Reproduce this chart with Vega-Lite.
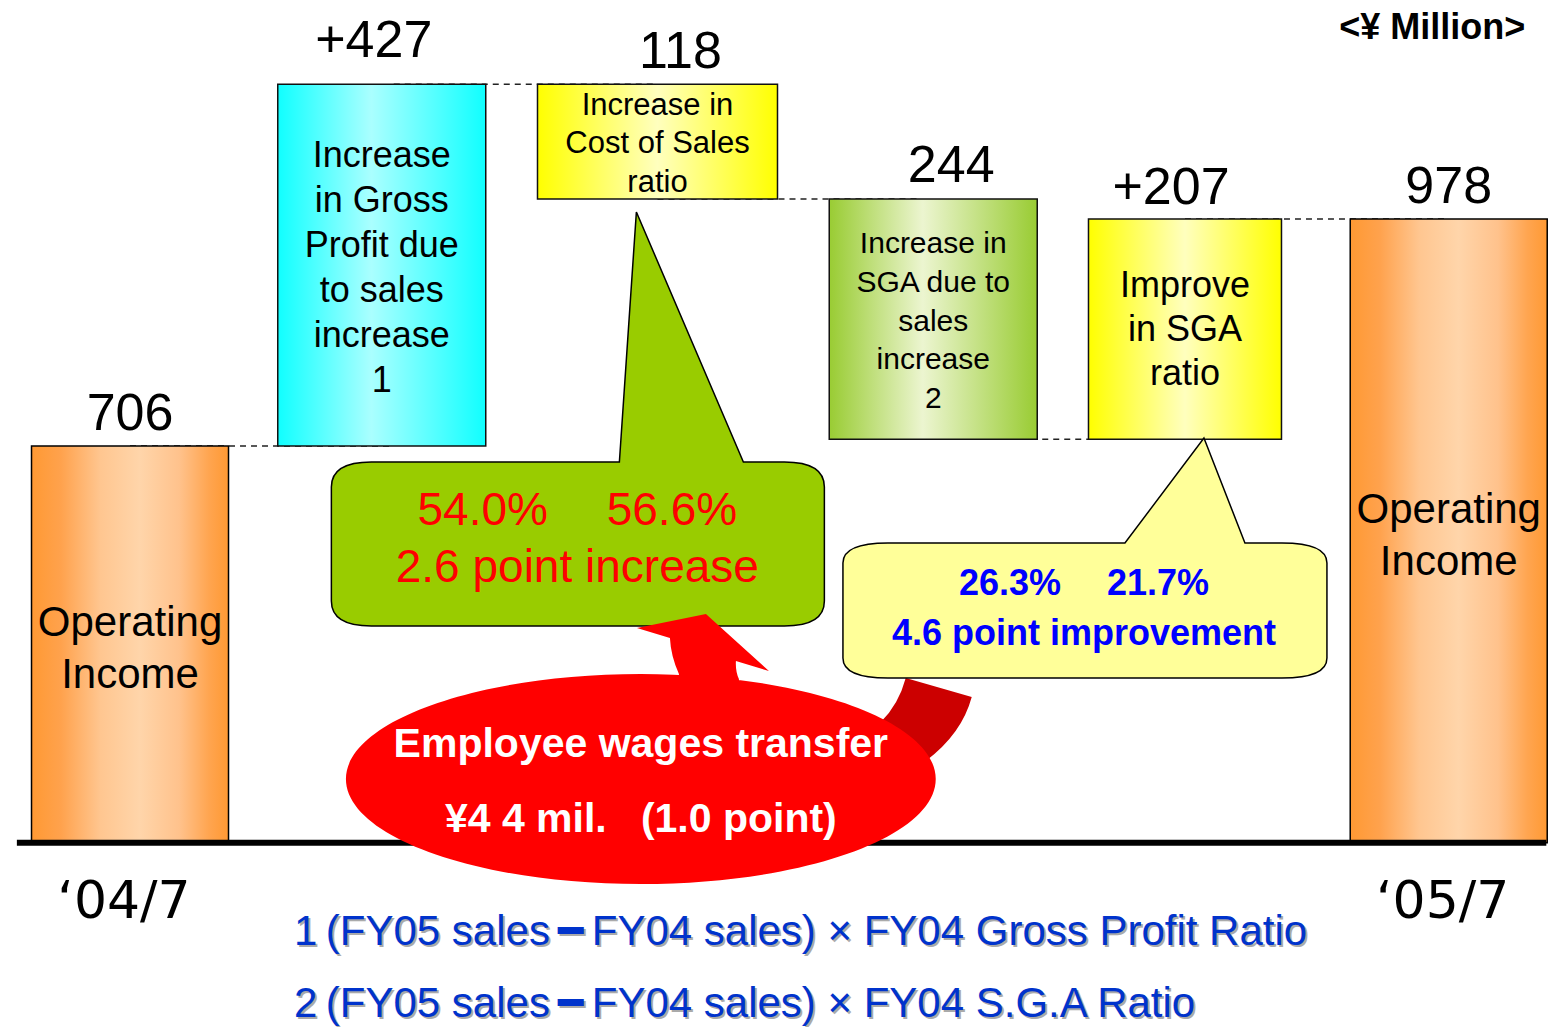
{
  "$schema": "https://vega.github.io/schema/vega-lite/v6.json",
  "width": 1555,
  "height": 1027,
  "padding": 0,
  "autosize": "none",
  "background": "white",
  "config": {"view": {"stroke": null}, "text": {"font": "Liberation Sans"}},
  "datasets": {
    "steps": [
      {"step": 0, "item": "Operating income FY04", "lo": 0, "hi": 706, "label": "706", "desc": "Operating\nIncome", "grp": "total", "cat": "‘04/7"},
      {"step": 1, "item": "Gross profit from sales increase", "lo": 706, "hi": 1350, "label": "+427", "desc": "Increase\nin Gross\nProfit due\nto sales\nincrease\n1", "grp": "gross", "cat": ""},
      {"step": 2, "item": "Cost of sales ratio", "lo": 1146, "hi": 1350, "label": "118", "desc": "Increase in\nCost of Sales\nratio", "grp": "cost", "cat": ""},
      {"step": 3, "item": "SGA from sales increase", "lo": 718, "hi": 1146, "label": "244", "desc": "Increase in\nSGA due to\nsales\nincrease\n2", "grp": "sga", "cat": ""},
      {"step": 4, "item": "SGA ratio", "lo": 718, "hi": 1110, "label": "+207", "desc": "Improve\nin SGA\nratio", "grp": "sgaratio", "cat": ""},
      {"step": 5, "item": "Operating income FY05", "lo": 0, "hi": 1110, "label": "978", "desc": "Operating\nIncome", "grp": "total", "cat": "‘05/7"}
    ],
    "links": [
      {"from": 0, "to": 1, "level": 706},
      {"from": 1, "to": 2, "level": 1350},
      {"from": 2, "to": 3, "level": 1146},
      {"from": 3, "to": 4, "level": 718},
      {"from": 4, "to": 5, "level": 1110}
    ]
  },
  "data": {"name": "steps"},
  "layer": [
    {
      "data": {"name": "links"},
      "mark": {"type": "rule", "strokeDash": [6, 5], "strokeWidth": 1.5, "color": "#222222"},
      "encoding": {
        "x": {"field": "from", "type": "quantitative", "scale": {"domain": [-0.474, 5.384], "nice": false, "zero": false}, "axis": null},
        "x2": {"field": "to"},
        "y": {"field": "level", "type": "quantitative", "scale": {"domain": [-328, 1500], "nice": false, "zero": false}, "axis": null}
      }
    },
    {
      "transform": [{"filter": "datum.grp == 'total'"}],
      "mark": {"type": "bar", "width": 197, "opacity": 1, "stroke": "#000000", "strokeWidth": 1.5,
        "fill": {"gradient": "linear", "x1": 0, "y1": 0, "x2": 1, "y2": 0, "stops": [
          {"offset": 0, "color": "#FF9933"}, {"offset": 0.15, "color": "#FFA24D"}, {"offset": 0.35, "color": "#FFC690"},
          {"offset": 0.55, "color": "#FFD5AA"}, {"offset": 0.75, "color": "#FFC28C"}, {"offset": 0.9, "color": "#FFA550"}, {"offset": 1, "color": "#FF9933"}]}},
      "encoding": {
        "x": {"field": "step", "type": "quantitative", "scale": {"domain": [-0.474, 5.384], "nice": false, "zero": false}, "axis": null},
        "y": {"field": "hi", "type": "quantitative", "scale": {"domain": [-328, 1500], "nice": false, "zero": false}, "axis": null},
        "y2": {"field": "lo"}
      }
    },
    {
      "transform": [{"filter": "datum.grp == 'gross'"}],
      "mark": {"type": "bar", "width": 208, "xOffset": -12, "opacity": 1, "stroke": "#111111", "strokeWidth": 1.5,
        "fill": {"gradient": "linear", "x1": 0, "y1": 0, "x2": 1, "y2": 0, "stops": [
          {"offset": 0, "color": "#10FFFF"}, {"offset": 0.45, "color": "#AAFFFF"}, {"offset": 1, "color": "#10FFFF"}]}},
      "encoding": {
        "x": {"field": "step", "type": "quantitative", "scale": {"domain": [-0.474, 5.384], "nice": false, "zero": false}, "axis": null},
        "y": {"field": "hi", "type": "quantitative", "scale": {"domain": [-328, 1500], "nice": false, "zero": false}, "axis": null},
        "y2": {"field": "lo"}
      }
    },
    {
      "transform": [{"filter": "datum.grp == 'cost'"}],
      "mark": {"type": "bar", "width": 240, "opacity": 1, "stroke": "#111111", "strokeWidth": 1.5,
        "fill": {"gradient": "linear", "x1": 0, "y1": 0, "x2": 1, "y2": 0, "stops": [
          {"offset": 0, "color": "#FFFF00"}, {"offset": 0.5, "color": "#FFFFBE"}, {"offset": 1, "color": "#FFFF00"}]}},
      "encoding": {
        "x": {"field": "step", "type": "quantitative", "scale": {"domain": [-0.474, 5.384], "nice": false, "zero": false}, "axis": null},
        "y": {"field": "hi", "type": "quantitative", "scale": {"domain": [-328, 1500], "nice": false, "zero": false}, "axis": null},
        "y2": {"field": "lo"}
      }
    },
    {
      "transform": [{"filter": "datum.grp == 'sga'"}],
      "mark": {"type": "bar", "width": 208, "xOffset": 12, "opacity": 1, "stroke": "#111111", "strokeWidth": 1.5,
        "fill": {"gradient": "linear", "x1": 0, "y1": 0, "x2": 1, "y2": 0, "stops": [
          {"offset": 0, "color": "#99CC33"}, {"offset": 0.45, "color": "#ECF5D0"}, {"offset": 1, "color": "#99CC33"}]}},
      "encoding": {
        "x": {"field": "step", "type": "quantitative", "scale": {"domain": [-0.474, 5.384], "nice": false, "zero": false}, "axis": null},
        "y": {"field": "hi", "type": "quantitative", "scale": {"domain": [-328, 1500], "nice": false, "zero": false}, "axis": null},
        "y2": {"field": "lo"}
      }
    },
    {
      "transform": [{"filter": "datum.grp == 'sgaratio'"}],
      "mark": {"type": "bar", "width": 193, "opacity": 1, "stroke": "#111111", "strokeWidth": 1.5,
        "fill": {"gradient": "linear", "x1": 0, "y1": 0, "x2": 1, "y2": 0, "stops": [
          {"offset": 0, "color": "#FFFF00"}, {"offset": 0.5, "color": "#FFFFBE"}, {"offset": 1, "color": "#FFFF00"}]}},
      "encoding": {
        "x": {"field": "step", "type": "quantitative", "scale": {"domain": [-0.474, 5.384], "nice": false, "zero": false}, "axis": null},
        "y": {"field": "hi", "type": "quantitative", "scale": {"domain": [-328, 1500], "nice": false, "zero": false}, "axis": null},
        "y2": {"field": "lo"}
      }
    },
    {
      "transform": [{"filter": "datum.grp == 'total'"}, {"fold": ["lo", "hi"], "as": ["edge", "level"]}],
      "mark": {"type": "text", "fontSize": 42, "lineHeight": 52, "lineBreak": "\n", "align": "center", "baseline": "alphabetic", "dy": -8, "color": "#000000"},
      "encoding": {
        "x": {"field": "step", "type": "quantitative", "scale": {"domain": [-0.474, 5.384], "nice": false, "zero": false}, "axis": null},
        "y": {"field": "level", "aggregate": "mean", "type": "quantitative", "scale": {"domain": [-328, 1500], "nice": false, "zero": false}, "axis": null},
        "text": {"field": "desc", "type": "nominal"}
      }
    },
    {
      "transform": [{"filter": "datum.grp == 'gross'"}, {"fold": ["lo", "hi"], "as": ["edge", "level"]}],
      "mark": {"type": "text", "fontSize": 36, "lineHeight": 45, "lineBreak": "\n", "align": "center", "baseline": "alphabetic", "dx": -12, "dy": -98, "color": "#000000"},
      "encoding": {
        "x": {"field": "step", "type": "quantitative", "scale": {"domain": [-0.474, 5.384], "nice": false, "zero": false}, "axis": null},
        "y": {"field": "level", "aggregate": "mean", "type": "quantitative", "scale": {"domain": [-328, 1500], "nice": false, "zero": false}, "axis": null},
        "text": {"field": "desc", "type": "nominal"}
      }
    },
    {
      "transform": [{"filter": "datum.grp == 'cost'"}, {"fold": ["lo", "hi"], "as": ["edge", "level"]}],
      "mark": {"type": "text", "fontSize": 31, "lineHeight": 38.5, "lineBreak": "\n", "align": "center", "baseline": "alphabetic", "dy": -27, "color": "#000000"},
      "encoding": {
        "x": {"field": "step", "type": "quantitative", "scale": {"domain": [-0.474, 5.384], "nice": false, "zero": false}, "axis": null},
        "y": {"field": "level", "aggregate": "mean", "type": "quantitative", "scale": {"domain": [-328, 1500], "nice": false, "zero": false}, "axis": null},
        "text": {"field": "desc", "type": "nominal"}
      }
    },
    {
      "transform": [{"filter": "datum.grp == 'sga'"}, {"fold": ["lo", "hi"], "as": ["edge", "level"]}],
      "mark": {"type": "text", "fontSize": 30, "lineHeight": 38.75, "lineBreak": "\n", "align": "center", "baseline": "alphabetic", "dx": 12, "dy": -66, "color": "#000000"},
      "encoding": {
        "x": {"field": "step", "type": "quantitative", "scale": {"domain": [-0.474, 5.384], "nice": false, "zero": false}, "axis": null},
        "y": {"field": "level", "aggregate": "mean", "type": "quantitative", "scale": {"domain": [-328, 1500], "nice": false, "zero": false}, "axis": null},
        "text": {"field": "desc", "type": "nominal"}
      }
    },
    {
      "transform": [{"filter": "datum.grp == 'sgaratio'"}, {"fold": ["lo", "hi"], "as": ["edge", "level"]}],
      "mark": {"type": "text", "fontSize": 36, "lineHeight": 44, "lineBreak": "\n", "align": "center", "baseline": "alphabetic", "dy": -32, "color": "#000000"},
      "encoding": {
        "x": {"field": "step", "type": "quantitative", "scale": {"domain": [-0.474, 5.384], "nice": false, "zero": false}, "axis": null},
        "y": {"field": "level", "aggregate": "mean", "type": "quantitative", "scale": {"domain": [-328, 1500], "nice": false, "zero": false}, "axis": null},
        "text": {"field": "desc", "type": "nominal"}
      }
    },
    {
      "transform": [{"filter": "datum.grp == 'total'"}],
      "mark": {"type": "text", "fontSize": 52, "align": "center", "baseline": "alphabetic", "dy": -16, "color": "#000000"},
      "encoding": {
        "x": {"field": "step", "type": "quantitative", "scale": {"domain": [-0.474, 5.384], "nice": false, "zero": false}, "axis": null},
        "y": {"field": "hi", "type": "quantitative", "scale": {"domain": [-328, 1500], "nice": false, "zero": false}, "axis": null},
        "text": {"field": "label", "type": "nominal"}
      }
    },
    {
      "transform": [{"filter": "datum.grp == 'gross'"}],
      "mark": {"type": "text", "fontSize": 52, "align": "center", "baseline": "alphabetic", "dx": -20, "dy": -27, "color": "#000000"},
      "encoding": {
        "x": {"field": "step", "type": "quantitative", "scale": {"domain": [-0.474, 5.384], "nice": false, "zero": false}, "axis": null},
        "y": {"field": "hi", "type": "quantitative", "scale": {"domain": [-328, 1500], "nice": false, "zero": false}, "axis": null},
        "text": {"field": "label", "type": "nominal"}
      }
    },
    {
      "transform": [{"filter": "datum.grp == 'cost'"}],
      "mark": {"type": "text", "fontSize": 52, "align": "center", "baseline": "alphabetic", "dx": 23, "dy": -16, "color": "#000000"},
      "encoding": {
        "x": {"field": "step", "type": "quantitative", "scale": {"domain": [-0.474, 5.384], "nice": false, "zero": false}, "axis": null},
        "y": {"field": "hi", "type": "quantitative", "scale": {"domain": [-328, 1500], "nice": false, "zero": false}, "axis": null},
        "text": {"field": "label", "type": "nominal"}
      }
    },
    {
      "transform": [{"filter": "datum.grp == 'sga'"}],
      "mark": {"type": "text", "fontSize": 52, "align": "center", "baseline": "alphabetic", "dx": 30, "dy": -17, "color": "#000000"},
      "encoding": {
        "x": {"field": "step", "type": "quantitative", "scale": {"domain": [-0.474, 5.384], "nice": false, "zero": false}, "axis": null},
        "y": {"field": "hi", "type": "quantitative", "scale": {"domain": [-328, 1500], "nice": false, "zero": false}, "axis": null},
        "text": {"field": "label", "type": "nominal"}
      }
    },
    {
      "transform": [{"filter": "datum.grp == 'sgaratio'"}],
      "mark": {"type": "text", "fontSize": 52, "align": "center", "baseline": "alphabetic", "dx": -14, "dy": -15, "color": "#000000"},
      "encoding": {
        "x": {"field": "step", "type": "quantitative", "scale": {"domain": [-0.474, 5.384], "nice": false, "zero": false}, "axis": null},
        "y": {"field": "hi", "type": "quantitative", "scale": {"domain": [-328, 1500], "nice": false, "zero": false}, "axis": null},
        "text": {"field": "label", "type": "nominal"}
      }
    },
    {
      "transform": [{"filter": "datum.grp == 'total'"}],
      "mark": {"type": "text", "font": "DejaVu Sans", "fontSize": 52, "align": "center", "baseline": "alphabetic", "dx": -6, "dy": 75, "color": "#000000"},
      "encoding": {
        "x": {"field": "step", "type": "quantitative", "scale": {"domain": [-0.474, 5.384], "nice": false, "zero": false}, "axis": null},
        "y": {"field": "lo", "type": "quantitative", "scale": {"domain": [-328, 1500], "nice": false, "zero": false}, "axis": null},
        "text": {"field": "cat", "type": "nominal"}
      }
    },
    {
      "data": {"values": [{}]},
      "mark": {"type": "rule", "strokeWidth": 6, "color": "#000000"},
      "encoding": {
        "x": {"datum": -0.429, "type": "quantitative", "scale": {"domain": [-0.474, 5.384], "nice": false, "zero": false}, "axis": null},
        "x2": {"datum": 5.37},
        "y": {"datum": 0, "type": "quantitative", "scale": {"domain": [-328, 1500], "nice": false, "zero": false}, "axis": null}
      }
    },
    {
      "data": {"values": [{}]},
      "mark": {"type": "point", "shape": "M -0.828 -0.328 L 0.164 -0.328 L 0.232 -1.328 L 0.66 -0.328 L 0.824 -0.328 Q 0.984 -0.328 0.984 -0.228 L 0.984 0.228 Q 0.984 0.328 0.824 0.328 L -0.828 0.328 Q -0.988 0.328 -0.988 0.228 L -0.988 -0.228 Q -0.988 -0.328 -0.828 -0.328 Z",
        "size": 250000, "filled": true, "fill": "#99CC00", "stroke": "#000000", "strokeWidth": 1.5, "opacity": 1},
      "encoding": {
        "x": {"datum": 1.70, "type": "quantitative", "scale": {"domain": [-0.474, 5.384], "nice": false, "zero": false}, "axis": null},
        "y": {"datum": 531.7, "type": "quantitative", "scale": {"domain": [-328, 1500], "nice": false, "zero": false}, "axis": null}
      }
    },
    {
      "data": {"values": [{}]},
      "mark": {"type": "text", "text": ["54.0%　 56.6%", "2.6 point increase"], "fontSize": 46, "lineHeight": 57, "align": "center", "baseline": "alphabetic", "color": "#FF0000"},
      "encoding": {
        "x": {"datum": 1.696, "type": "quantitative", "scale": {"domain": [-0.474, 5.384], "nice": false, "zero": false}, "axis": null},
        "y": {"datum": 565.5, "type": "quantitative", "scale": {"domain": [-328, 1500], "nice": false, "zero": false}, "axis": null}
      }
    },
    {
      "data": {"values": [{}]},
      "mark": {"type": "point", "shape": "M 0.883 -0.337 L 1.103 -0.273 Q 1.07 -0.15 0.95 -0.06 L 0.8 -0.19 Q 0.86 -0.25 0.883 -0.337 Z",
        "size": 360000, "filled": true, "fill": "#CC0000", "strokeWidth": 0, "opacity": 1},
      "encoding": {
        "x": {"datum": 1.9368, "type": "quantitative", "scale": {"domain": [-0.474, 5.384], "nice": false, "zero": false}, "axis": null},
        "y": {"datum": 113.4, "type": "quantitative", "scale": {"domain": [-328, 1500], "nice": false, "zero": false}, "axis": null}
      }
    },
    {
      "data": {"values": [{}]},
      "mark": {"type": "point", "shape": "M -0.788 -0.27 L 0.16 -0.27 L 0.476 -0.69 L 0.64 -0.27 L 0.788 -0.27 Q 0.968 -0.27 0.968 -0.19 L 0.968 0.19 Q 0.968 0.27 0.788 0.27 L -0.788 0.27 Q -0.968 0.27 -0.968 0.19 L -0.968 -0.19 Q -0.968 -0.27 -0.788 -0.27 Z",
        "size": 250000, "filled": true, "fill": "#FFFF99", "stroke": "#000000", "strokeWidth": 1.5, "opacity": 1},
      "encoding": {
        "x": {"datum": 3.6207, "type": "quantitative", "scale": {"domain": [-0.474, 5.384], "nice": false, "zero": false}, "axis": null},
        "y": {"datum": 413.3, "type": "quantitative", "scale": {"domain": [-328, 1500], "nice": false, "zero": false}, "axis": null}
      }
    },
    {
      "data": {"values": [{}]},
      "mark": {"type": "text", "text": ["26.3%　 21.7%", "4.6 point improvement"], "fontSize": 36, "fontWeight": "bold", "lineHeight": 50, "align": "center", "baseline": "alphabetic", "color": "#0000FF"},
      "encoding": {
        "x": {"datum": 3.617, "type": "quantitative", "scale": {"domain": [-0.474, 5.384], "nice": false, "zero": false}, "axis": null},
        "y": {"datum": 440.9, "type": "quantitative", "scale": {"domain": [-328, 1500], "nice": false, "zero": false}, "axis": null}
      }
    },
    {
      "data": {"values": [{}]},
      "mark": {"type": "point", "shape": "M 0.983 0 C 0.983 0.193 0.543 0.35 0 0.35 C -0.543 0.35 -0.983 0.193 -0.983 0 C -0.983 -0.193 -0.543 -0.35 0 -0.35 C 0.543 -0.35 0.983 -0.193 0.983 0 Z M 0.127 -0.3 L 0.127 -0.35 Q 0.1 -0.41 0.097 -0.47 L -0.013 -0.503 L 0.217 -0.55 L 0.427 -0.36 L 0.317 -0.393 Q 0.315 -0.36 0.327 -0.333 L 0.327 -0.3 Z",
        "size": 360000, "filled": true, "fill": "#FF0000", "strokeWidth": 0, "opacity": 1},
      "encoding": {
        "x": {"datum": 1.9368, "type": "quantitative", "scale": {"domain": [-0.474, 5.384], "nice": false, "zero": false}, "axis": null},
        "y": {"datum": 113.4, "type": "quantitative", "scale": {"domain": [-328, 1500], "nice": false, "zero": false}, "axis": null}
      }
    },
    {
      "data": {"values": [{}]},
      "mark": {"type": "text", "text": ["Employee wages transfer", "¥4 4 mil.\u00a0\u00a0 (1.0 point)"], "fontSize": 41, "fontWeight": "bold", "lineHeight": 75, "align": "center", "baseline": "alphabetic", "color": "#FFFFFF"},
      "encoding": {
        "x": {"datum": 1.9368, "type": "quantitative", "scale": {"domain": [-0.474, 5.384], "nice": false, "zero": false}, "axis": null},
        "y": {"datum": 152.6, "type": "quantitative", "scale": {"domain": [-328, 1500], "nice": false, "zero": false}, "axis": null}
      }
    },
    {
      "data": {"values": [{}]},
      "mark": {"type": "text", "text": "<¥ Million>", "fontSize": 36, "fontWeight": "bold", "align": "right", "baseline": "alphabetic", "color": "#000000"},
      "encoding": {
        "x": {"datum": 5.29, "type": "quantitative", "scale": {"domain": [-0.474, 5.384], "nice": false, "zero": false}, "axis": null},
        "y": {"datum": 1430.6, "type": "quantitative", "scale": {"domain": [-328, 1500], "nice": false, "zero": false}, "axis": null}
      }
    },
    {
      "data": {"values": [{}]},
      "mark": {"type": "text", "text": ["1\u2009(FY05 sales\u2009━\u2009FY04 sales) × FY04 Gross Profit Ratio", "2\u2009(FY05 sales\u2009━\u2009FY04 sales) × FY04 S.G.A Ratio"], "fontSize": 42, "lineHeight": 72, "align": "left", "baseline": "alphabetic", "dx": 2, "dy": 2, "color": "#AAAAAA"},
      "encoding": {
        "x": {"datum": 0.622, "type": "quantitative", "scale": {"domain": [-0.474, 5.384], "nice": false, "zero": false}, "axis": null},
        "y": {"datum": -182.0, "type": "quantitative", "scale": {"domain": [-328, 1500], "nice": false, "zero": false}, "axis": null}
      }
    },
    {
      "data": {"values": [{}]},
      "mark": {"type": "text", "text": ["1\u2009(FY05 sales\u2009━\u2009FY04 sales) × FY04 Gross Profit Ratio", "2\u2009(FY05 sales\u2009━\u2009FY04 sales) × FY04 S.G.A Ratio"], "fontSize": 42, "lineHeight": 72, "align": "left", "baseline": "alphabetic", "color": "#0033CC"},
      "encoding": {
        "x": {"datum": 0.622, "type": "quantitative", "scale": {"domain": [-0.474, 5.384], "nice": false, "zero": false}, "axis": null},
        "y": {"datum": -182.0, "type": "quantitative", "scale": {"domain": [-328, 1500], "nice": false, "zero": false}, "axis": null}
      }
    }
  ]
}
